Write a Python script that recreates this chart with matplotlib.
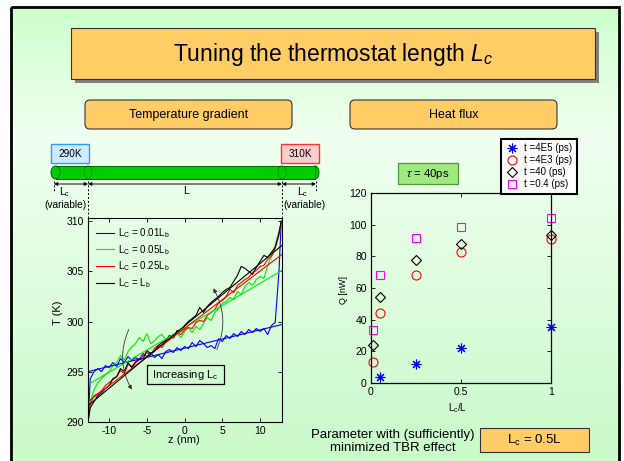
"""Slide: tuning the thermostat length L_c (temperature profiles and heat flux)."""

import matplotlib

matplotlib.use("Agg")
import matplotlib.pyplot as plt
import numpy as np
from matplotlib import patches
from matplotlib.colors import LinearSegmentedColormap

plt.rcParams["font.family"] = ["Liberation Sans", "DejaVu Sans"]
plt.rcParams["mathtext.fontset"] = "custom"
plt.rcParams["mathtext.rm"] = "Liberation Sans"
plt.rcParams["mathtext.it"] = "Liberation Sans:italic"
plt.rcParams["mathtext.default"] = "regular"
plt.rcParams["axes.unicode_minus"] = False

# ---- temperature profiles T(z) ----
Z_NM = [-12.8, -12.5, -12.0, -11.5, -11.0, -10.5, -10.0, -9.5, -9.0, -8.5,
        -8.0, -7.5, -7.0, -6.5, -6.0, -5.5, -5.0, -4.5, -4.0, -3.5,
        -3.0, -2.5, -2.0, -1.5, -1.0, -0.5, 0.0, 0.5, 1.0, 1.5,
        2.0, 2.5, 3.0, 3.5, 4.0, 4.5, 5.0, 5.5, 6.0, 6.5,
        7.0, 7.5, 8.0, 8.5, 9.0, 9.5, 10.0, 10.5, 11.0, 11.5,
        12.0, 12.5, 12.8]
T_LC001 = [290.0, 294.3, 295.0, 295.3, 295.0, 295.6, 295.4, 295.9, 295.5, 296.3,
           295.9, 296.5, 296.1, 296.4, 296.2, 296.8, 296.5, 296.9, 296.4, 296.7,
           296.3, 297.0, 297.2, 296.9, 297.4, 297.1, 297.5, 297.3, 297.9, 297.5,
           298.1, 297.8, 297.4, 297.6, 297.3, 298.3, 298.0, 298.6, 298.3, 298.8,
           298.5, 299.0, 298.7, 299.2, 298.9, 299.3, 299.0, 299.3, 298.7, 299.6,
           299.9, 305.0, 310.0]
T_LC005 = [290.0, 292.0, 293.2, 293.9, 294.3, 294.7, 295.0, 295.6, 295.9, 296.6,
           296.2, 297.0, 297.5, 297.8, 298.4, 298.0, 298.8, 297.8, 298.1, 298.5,
           298.7, 298.2, 298.6, 298.3, 298.9, 298.4, 299.0, 299.4, 298.9, 299.5,
           299.2, 299.8, 300.4, 300.1, 300.9, 301.3, 301.8, 302.0, 302.4, 302.2,
           303.0, 302.7, 303.5, 303.9, 303.6, 304.2, 304.5, 304.3, 305.6, 306.5,
           307.6, 309.0, 310.0]
T_LC025 = [290.0, 291.8, 292.6, 292.8, 293.1, 293.6, 293.9, 294.2, 294.5, 295.1,
           294.8, 295.7, 295.5, 296.0, 296.3, 296.6, 296.9, 296.6, 297.3, 297.6,
           297.4, 298.0, 298.2, 298.5, 298.9, 298.7, 299.2, 299.4, 299.3, 299.9,
           300.1, 300.0, 300.6, 300.9, 301.2, 301.9, 302.1, 302.5, 303.2, 302.9,
           303.6, 303.9, 304.2, 304.4, 304.9, 305.1, 305.5, 305.6, 306.2, 306.5,
           307.3, 308.6, 310.0]
T_LC100 = [290.0, 291.4, 292.0, 292.6, 292.9, 293.3, 293.6, 294.3, 294.5, 295.3,
           295.0, 295.9, 295.4, 295.9, 296.2, 296.3, 297.1, 296.8, 297.0, 297.6,
           297.9, 298.1, 298.6, 298.4, 299.1, 299.0, 299.6, 300.0, 300.3, 300.6,
           301.4, 300.9, 301.5, 301.9, 302.2, 302.5, 302.9, 303.2, 303.4, 304.0,
           304.6, 305.5, 305.3, 305.0, 304.7, 305.4, 306.0, 306.6, 306.4, 306.9,
           307.4, 308.8, 310.0]

# linear fits (end points)
FIT_Z = [-12.8, 12.9]
FIT_LC001 = [295.0, 299.7]
FIT_LC005 = [293.7, 305.1]
FIT_LC025 = [292.0, 306.7]
FIT_LC100 = [291.6, 307.6]

PROFILE_LABELS = ["L$_C$ = 0.01L$_b$", "L$_C$ = 0.05L$_b$",
                  "L$_C$ = 0.25L$_b$", "L$_C$ = L$_b$"]
PROFILE_COLORS = ["#0000FF", "#00EE00", "#FF0000", "#000000"]

# ---- heat flux Q vs L_c/L, right panel ----
LC_RATIO = [0.01, 0.05, 0.25, 0.5, 1.0]
LC_RATIO_4E5 = [0.05, 0.25, 0.5, 1.0]
Q_T4E5 = [3.5, 12.0, 22.0, 35.0]
Q_T4E3 = [13.0, 44.0, 68.0, 83.0, 91.0]
Q_T40 = [24.0, 54.0, 78.0, 88.0, 93.5]
Q_T04 = [33.5, 68.5, 91.5, 98.7, 104.5]

W, H = 624, 461
fig = plt.figure(figsize=(W / 100, H / 100), dpi=100)

# ---------- slide background, drawn in pixel coordinates ----------
bg = fig.add_axes([0, 0, 1, 1])
slide_cmap = LinearSegmentedColormap.from_list(
    "slide", [(0.0, "#CCFFCC"), (0.28, "#F0FFF0"), (1.0, "#C8FAC8")])
bg.imshow(np.linspace(0, 1, 256).reshape(-1, 1), cmap=slide_cmap,
          extent=[11, 619, 470, 7], aspect="auto", zorder=0)
bg.set_xlim(0, W)
bg.set_ylim(H, 0)
bg.axis("off")
bg.add_patch(patches.Rectangle((11, 7), 608, 470, fill=False, lw=2, ec="black", zorder=1))

# title box with shadow
bg.add_patch(patches.Rectangle((75, 32), 524, 51, fc="#808080", ec="none", zorder=2))
bg.add_patch(patches.Rectangle((71, 28), 524, 51, fc="#FFCC66", ec="#333333", lw=0.8, zorder=3))
bg.text(333, 54, "Tuning the thermostat length $\\mathit{L_c}$", ha="center", va="center",
        fontsize=16.5, zorder=4)

for x0, label in [(85, "Temperature gradient"), (350, "Heat flux")]:
    bg.add_patch(patches.FancyBboxPatch((x0, 100), 207, 29, boxstyle="round,pad=0,rounding_size=5",
                                        fc="#FFCC66", ec="#333333", lw=0.8, zorder=3))
    bg.text(x0 + 103.5, 114.5, label, ha="center", va="center", fontsize=9, zorder=4)

# thermostat boxes
bg.add_patch(patches.Rectangle((51, 144), 38, 19, fc="#CCECFF", ec="#3399FF", lw=1, zorder=3))
bg.text(70, 153.5, "290K", ha="center", va="center", fontsize=7.2, zorder=4)
bg.add_patch(patches.Rectangle((281, 144), 38, 19, fc="#FFCCCC", ec="#FF3333", lw=1, zorder=3))
bg.text(300, 153.5, "310K", ha="center", va="center", fontsize=7.2, zorder=4)

# green rod
rod_green, rod_edge = "#00CC00", "#006600"
bg.add_patch(patches.Ellipse((315, 172.5), 8, 13, fc=rod_green, ec=rod_edge, lw=0.7, zorder=3))
bg.add_patch(patches.Rectangle((55.5, 166), 259.5, 13, fc=rod_green, ec="none", zorder=3))
bg.plot([55.5, 315], [166, 166], color=rod_edge, lw=0.7, zorder=4)
bg.plot([55.5, 315], [179, 179], color=rod_edge, lw=0.7, zorder=4)
bg.plot([315, 315], [166, 179], color=rod_edge, lw=0.7, zorder=4)
bg.add_patch(patches.Ellipse((55.5, 172.5), 9, 13, fc=rod_green, ec=rod_edge, lw=0.7, zorder=4))
for xe in (88, 282):
    bg.add_patch(patches.Ellipse((xe, 172.5), 8, 13, fill=False, ec=rod_edge, lw=0.6,
                                 ls=(0, (2, 1.5)), zorder=4))

# dimension lines
for xd, y1 in [(54, 192), (88, 218), (282, 218), (316, 192)]:
    bg.plot([xd, xd], [181, y1], color="black", lw=0.7, ls=(0, (2, 2)), zorder=4)
for xa, xb in [(54, 88), (88, 282), (282, 316)]:
    bg.annotate("", xy=(xb, 184), xytext=(xa, 184),
                arrowprops=dict(arrowstyle="<|-|>", lw=0.7, color="black",
                                mutation_scale=5, shrinkA=0, shrinkB=0), zorder=4)
bg.text(65, 192, "L$_c$", ha="center", va="center", fontsize=7.5, zorder=4)
bg.text(186, 191, "L", ha="center", va="center", fontsize=7.5, zorder=4)
bg.text(303, 192, "L$_c$", ha="center", va="center", fontsize=7.5, zorder=4)
bg.text(65, 205, "(variable)", ha="center", va="center", fontsize=7.3, zorder=4)
bg.text(304, 205, "(variable)", ha="center", va="center", fontsize=7.3, zorder=4)

# "Increasing L_c" box
bg.add_patch(patches.Rectangle((147, 365), 77, 19, fill=False, ec="black", lw=0.9, zorder=3))
bg.text(185.5, 375, "Increasing L$_c$", ha="center", va="center", fontsize=8, zorder=4)

# tau box
bg.add_patch(patches.Rectangle((398, 163), 60, 21, fc="#A0E880", ec="#4D9933", lw=0.9, zorder=3))
bg.text(428, 173.5, "$\\mathit{\\tau}$ = 40ps", ha="center", va="center", fontsize=8.2, zorder=4)

# conclusion
bg.text(392.5, 441.5, "Parameter with (sufficiently)\nminimized TBR effect", ha="center",
        va="center", fontsize=9.5, linespacing=1.05, zorder=4)
bg.add_patch(patches.Rectangle((480, 428), 109, 24, fc="#FFCC66", ec="#333333", lw=0.8, zorder=3))
bg.text(534.5, 440.5, "L$_c$ = 0.5L", ha="center", va="center", fontsize=9.5, zorder=4)

# ---------- left panel: temperature profiles ----------
axL = fig.add_axes([88 / W, (H - 421.7) / H, 194 / W, 203.4 / H])
axL.set_facecolor("none")
for T, c in zip([T_LC001, T_LC005, T_LC025, T_LC100], PROFILE_COLORS):
    axL.plot(Z_NM, T, color=c, lw=0.8)
for fit, c, lab in zip([FIT_LC001, FIT_LC005, FIT_LC025, FIT_LC100], PROFILE_COLORS, PROFILE_LABELS):
    axL.plot(FIT_Z, fit, color=c, lw=0.8, label=lab)
axL.set_xlim(-12.8, 12.9)
axL.set_ylim(290, 310.3)
axL.set_xticks([-10, -5, 0, 5, 10])
axL.set_yticks([290, 295, 300, 305, 310])
axL.tick_params(direction="in", top=True, right=True, labelsize=7.5, length=3, width=0.6, pad=3)
for s in axL.spines.values():
    s.set_linewidth(0.8)
axL.set_xlabel("z (nm)", fontsize=8)
axL.set_ylabel("T (K)", fontsize=8)
axL.xaxis.set_label_coords(0.495, -0.065)
axL.yaxis.set_label_coords(-0.13, 0.534)
axL.legend(loc="upper left", frameon=False, fontsize=7, handlelength=1.9, handletextpad=0.35,
           labelspacing=0.3, borderaxespad=0.4, borderpad=0.4)
axL.annotate("", xy=(-7.0, 293.2), xytext=(-7.4, 299.2),
             arrowprops=dict(arrowstyle="-|>", connectionstyle="arc3,rad=0.25", color="#333333",
                             lw=0.6, mutation_scale=6, shrinkA=0, shrinkB=0))
axL.annotate("", xy=(3.8, 303.3), xytext=(4.26, 297.2),
             arrowprops=dict(arrowstyle="-|>", connectionstyle="arc3,rad=0.25", color="#333333",
                             lw=0.6, mutation_scale=6, shrinkA=0, shrinkB=0))

# ---------- right panel: heat flux ----------
axR = fig.add_axes([371 / W, (H - 382.7) / H, 180 / W, 189.4 / H])
axR.set_facecolor("none")
axR.plot(LC_RATIO_4E5, Q_T4E5, ls="none", marker=(8, 2, 0), ms=7, mec="#0000FF", mew=0.8,
         label="t =4E5 (ps)", clip_on=False)
axR.plot(LC_RATIO, Q_T4E3, ls="none", marker="o", ms=6.5, mfc="none", mec="#FF0000", mew=0.8,
         label="t =4E3 (ps)", clip_on=False)
axR.plot(LC_RATIO, Q_T40, ls="none", marker="D", ms=5, mfc="none", mec="#000000", mew=0.8,
         label="t =40 (ps)", clip_on=False)
axR.plot(LC_RATIO, Q_T04, ls="none", marker="s", ms=5.5, mfc="none", mec="#FF00FF", mew=0.8,
         label="t =0.4 (ps)", clip_on=False)
axR.set_xlim(0, 1)
axR.set_ylim(0, 120)
axR.set_xticks([0, 0.5, 1])
axR.set_xticklabels(["0", "0.5", "1"])
axR.set_yticks([0, 20, 40, 60, 80, 100, 120])
axR.tick_params(direction="in", top=True, right=True, labelsize=7.5, length=3, width=0.6, pad=3)
for s in axR.spines.values():
    s.set_linewidth(0.9)
axR.set_xlabel("L$_c$/L", fontsize=7)
axR.set_ylabel("Q [nW]", fontsize=6.5)
axR.xaxis.set_label_coords(0.483, -0.1)
axR.yaxis.set_label_coords(-0.125, 0.49)
leg = axR.legend(loc="upper right", bbox_to_anchor=(577 / W, (H - 139) / H),
                 bbox_transform=fig.transFigure, borderaxespad=0, fontsize=7, frameon=True,
                 fancybox=False, framealpha=1, edgecolor="black", handlelength=1.4,
                 handletextpad=0.55, labelspacing=0.2, borderpad=0.45)
leg.get_frame().set_linewidth(1.5)
leg.set_zorder(5)

fig.savefig("out.png", dpi=100)
